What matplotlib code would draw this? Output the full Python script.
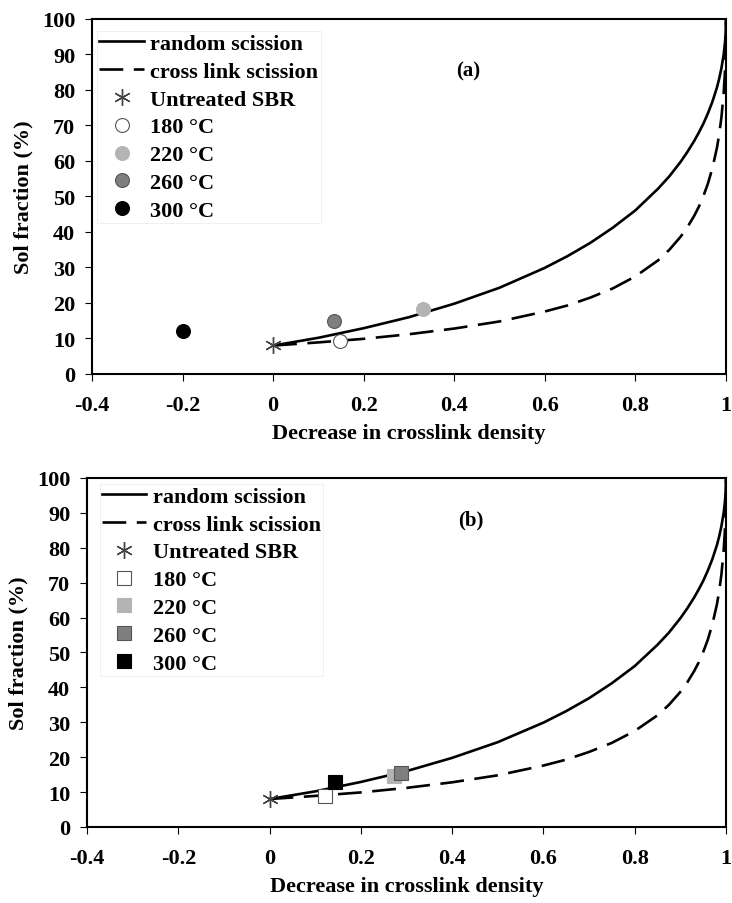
import matplotlib
matplotlib.use("Agg")
import matplotlib.pyplot as plt

# ------ theoretical curves (Horikx) ------
decrease_x = [0, 0.1, 0.2, 0.3, 0.4, 0.5, 0.6, 0.65, 0.7, 0.75, 0.8, 0.85, 0.875, 0.9,
              0.915, 0.93, 0.94, 0.95, 0.96, 0.97, 0.98, 0.985, 0.99, 0.995, 0.9975,
              0.999, 1.0]
random_y = [8.0, 10.2, 12.9, 16.0, 19.8, 24.3, 29.9, 33.2, 36.9, 41.2, 46.1, 52.2, 55.7, 59.8,
            62.6, 65.7, 68.0, 70.5, 73.4, 76.7, 80.7, 83.2, 86.2, 90.1, 93.0,
            95.5, 100]
crosslink_y = [8.0, 8.9, 9.9, 11.2, 12.8, 14.8, 17.6, 19.3, 21.5, 24.1, 27.5, 32.0, 35.0, 38.7,
               41.4, 44.6, 47.1, 50.1, 53.6, 58.0, 63.7, 67.5, 72.4, 79.4, 84.8,
               90.0, 100]

# ------ measured points ------
untreated = (0.0, 8.1)
labels = ['180 °C', '220 °C', '260 °C', '300 °C']
colors = ['white', '#b4b4b4', '#7f7f7f', 'black']
edges = ['#555555', '#b4b4b4', '#555555', 'black']
a_x = [0.147, 0.332, 0.135, -0.199]
a_y = [9.3, 18.2, 14.8, 12.0]
b_x = [0.122, 0.272, 0.287, 0.144]
b_y = [8.8, 14.7, 15.6, 13.0]

plt.rcParams['font.family'] = ['Liberation Serif', 'DejaVu Serif']
plt.rcParams['font.weight'] = 'bold'
plt.rcParams['axes.labelweight'] = 'bold'

fig = plt.figure(figsize=(7.32, 9.04), dpi=100)
ax_a = fig.add_axes([0.1257, 0.5852, 0.8661, 0.3927])
ax_b = fig.add_axes([0.1189, 0.0841, 0.8729, 0.3861])


def panel(ax, px, py, marker, tag, tag_xy, leg_anchor):
    ax.plot(decrease_x, random_y, color='black', lw=1.9, label='random scission',
            solid_joinstyle='round', zorder=3)
    ax.plot(decrease_x, crosslink_y, color='black', lw=1.9, ls=(0, (9, 4)),
            label='cross link scission', zorder=3)
    ax.plot([untreated[0]], [untreated[1]], ls='none', marker=(6, 2, 0), ms=12,
            mec='#444444', mew=1.0, label='Untreated SBR', zorder=4)
    for i in range(len(labels)):
        ax.plot([px[i]], [py[i]], ls='none', marker=marker, ms=10,
                mfc=colors[i], mec=edges[i], mew=0.8, label=labels[i], zorder=5)

    ax.set_xlim(-0.4, 1.0)
    ax.set_ylim(0, 100)
    ax.set_xticks([-0.4, -0.2, 0, 0.2, 0.4, 0.6, 0.8, 1.0])
    ax.set_xticklabels(['-0.4', '-0.2', '0', '0.2', '0.4', '0.6', '0.8', '1'])
    ax.set_yticks(range(0, 101, 10))
    ax.tick_params(direction='out', length=5, width=0.8, labelsize=16)
    ax.tick_params(axis='x', pad=10)
    ax.tick_params(axis='y', pad=7)
    for s in ax.spines.values():
        s.set_linewidth(1.5)
    ax.set_xlabel('Decrease in crosslink density', fontsize=16, labelpad=6)
    ax.set_ylabel('Sol fraction (%)', fontsize=16, labelpad=6)
    ax.text(tag_xy[0], tag_xy[1], tag, fontsize=15, fontweight='bold',
            ha='center', va='center')
    leg = ax.legend(loc='upper left', bbox_to_anchor=leg_anchor, borderaxespad=0,
                    fontsize=16, handlelength=2.0, handletextpad=0.3,
                    labelspacing=0.33, borderpad=0.1, fancybox=False,
                    framealpha=1.0, edgecolor='#eeeeee')
    leg.get_frame().set_linewidth(0.6)


panel(ax_a, a_x, a_y, 'o', '(a)', (0.43, 85.5), (0.008, 0.966))
panel(ax_b, b_x, b_y, 's', '(b)', (0.44, 88.0), (0.02, 0.983))

fig.savefig('out.png', dpi=100)
